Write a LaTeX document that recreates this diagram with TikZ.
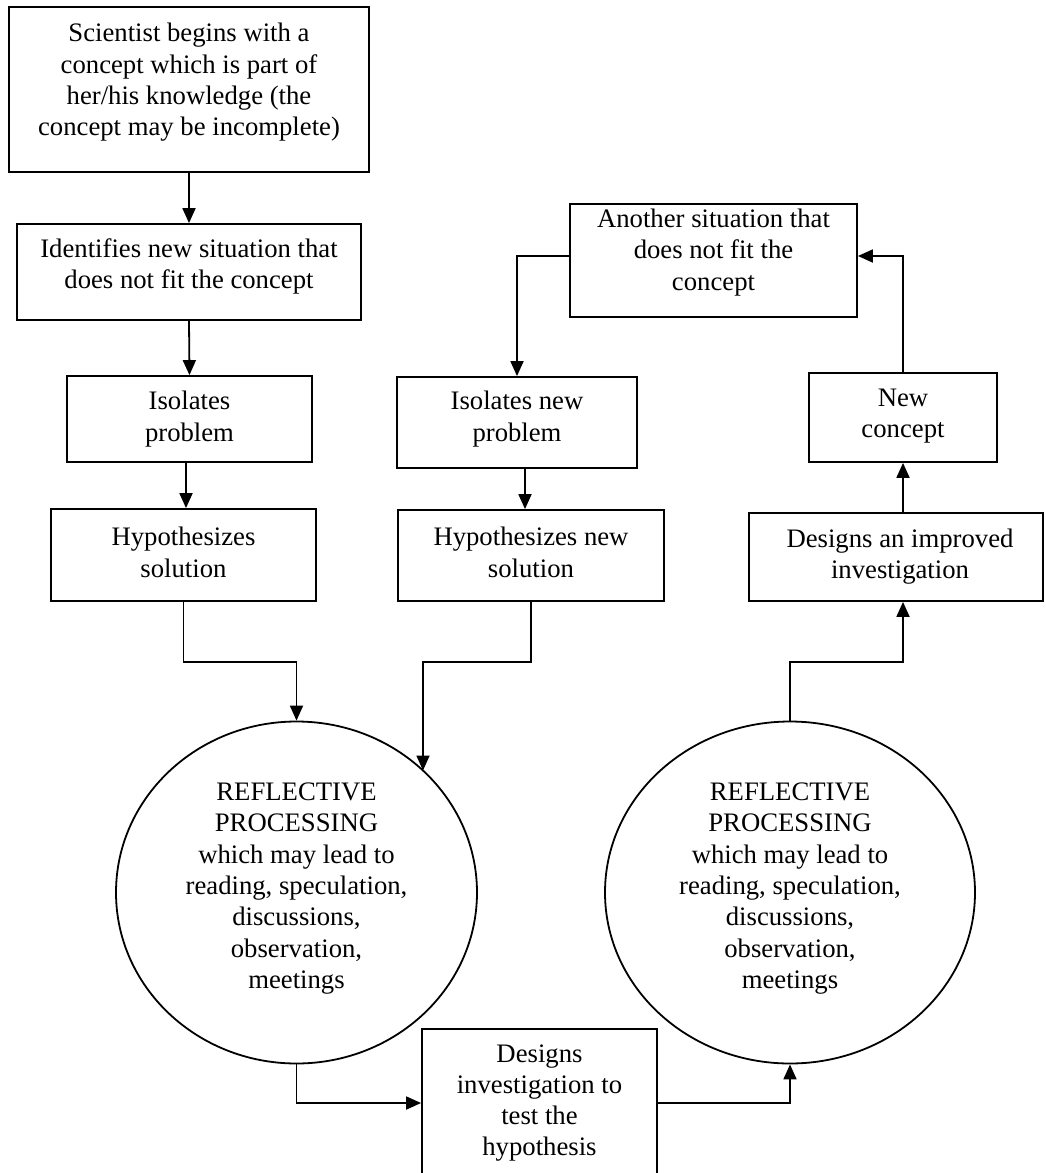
\documentclass[tikz,border=0pt]{standalone}
\usepackage{fontspec}
\setmainfont{Liberation Serif}
\usetikzlibrary{arrows.meta,shapes.geometric}
\begin{document}
\begin{tikzpicture}[x=1pt,y=-1pt,
  box/.style={draw=black,line width=1.8pt,inner sep=0pt,rectangle},
  oval/.style={draw=black,line width=1.8pt,inner sep=0pt,ellipse},
  txt/.style={inner sep=0pt,align=center,font=\fontsize{26.7pt}{31.3pt}\selectfont},
  arr/.style={line width=1.8pt,-{Triangle[length=15pt,width=13pt]}}]
\useasboundingbox (0,0) rectangle (1046,1173);
% boxes
\node[box,minimum width=360pt,minimum height=165pt] (b1) at (189,89.5) {};
\node[box,minimum width=344pt,minimum height=96pt] (b2) at (189,272) {};
\node[box,minimum width=245pt,minimum height=86pt] (b3) at (189.5,419) {};
\node[box,minimum width=265pt,minimum height=92pt] (b4) at (183.5,555) {};
\node[box,minimum width=287pt,minimum height=113pt] (b5) at (713.5,260.5) {};
\node[box,minimum width=240pt,minimum height=91pt] (b6) at (517,422.5) {};
\node[box,minimum width=266pt,minimum height=91pt] (b7) at (531,555.5) {};
\node[box,minimum width=188pt,minimum height=89pt] (b8) at (903,417.5) {};
\node[box,minimum width=294pt,minimum height=88pt] (b9) at (896,557) {};
\node[box,minimum width=235pt,minimum height=148pt] (b12) at (539.5,1103) {};
\node[oval,minimum width=361pt,minimum height=342pt] (c1) at (296.5,892.5) {};
\node[oval,minimum width=370pt,minimum height=342pt] (c2) at (790,892.5) {};
% texts
\node[txt] (t1) at (189,82.5) {Scientist begins with a\\concept which is part of\\her/his knowledge (the\\concept may be incomplete)};
\node[txt] (t2) at (189,266.5) {Identifies new situation that\\does not fit the concept};
\node[txt] (t3) at (189.5,419) {Isolates\\problem};
\node[txt] (t4) at (183.5,552.5) {Hypothesizes\\solution};
\node[txt] (t5) at (713.5,252.5) {Another situation that\\does not fit the\\concept};
\node[txt] (t6) at (517,419) {Isolates new\\problem};
\node[txt] (t7) at (531,552.5) {Hypothesizes new\\solution};
\node[txt] (t8) at (903,416) {New\\concept};
\node[txt] (t9) at (900,556.5) {Designs an improved\\investigation};
\node[txt] (t10) at (296.5,888.5) {REFLECTIVE\\PROCESSING\\which may lead to\\reading, speculation,\\discussions,\\observation,\\meetings};
\node[txt] (t11) at (790,888.5) {REFLECTIVE\\PROCESSING\\which may lead to\\reading, speculation,\\discussions,\\observation,\\meetings};
\node[txt] (t12) at (539.5,1103) {Designs\\investigation to\\test the\\hypothesis};
% free ends
\coordinate (c1in) at (423,770.5);
% connectors
\draw[arr] (b1.south) -- (b2.north);
\draw[arr] (b2.south) -- (b3.north);
\draw[arr] (b3.south -| 186,0) -- (b4.north -| 186,0);
\draw[arr] (b4.south) -- (b4.south |- 0,662) -| (c1.north);
\draw[arr] (b7.south) -- (b7.south |- 0,662) -| (c1in);
\draw[arr] (c1.south) |- (b12.west);
\draw[arr] (b12.east) -| (c2.south);
\draw[arr] (c2.north) -- (c2.north |- 0,662) -| (b9.south -| 903,0);
\draw[arr] (b9.north -| 903,0) -- (b8.south);
\draw[arr] (b8.north) |- ([yshift=4.5pt]b5.east);
\draw[arr] ([yshift=4.5pt]b5.west) -| (b6.north);
\draw[arr] (b6.south -| 525,0) -- (b7.north -| 525,0);
\end{tikzpicture}
\end{document}
